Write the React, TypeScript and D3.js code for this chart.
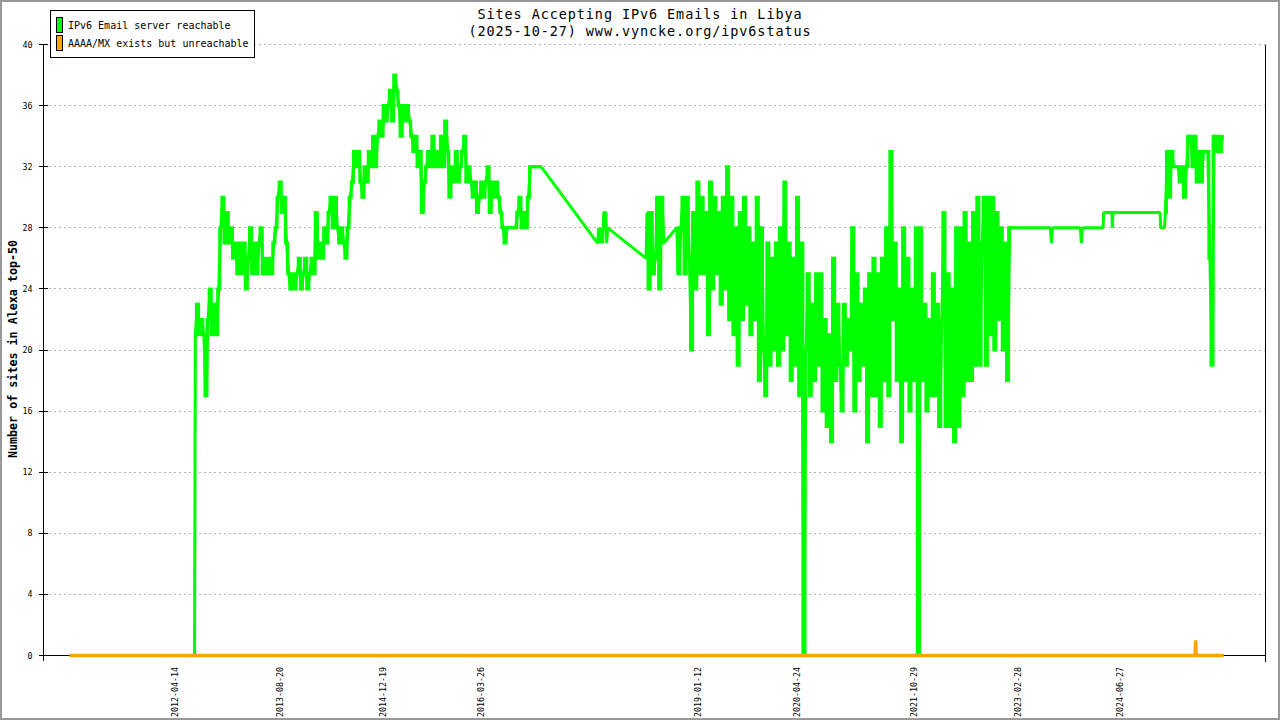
import React from "react";
import * as d3 from "d3";

const titleLines = ["Sites Accepting IPv6 Emails in Libya", "(2025-10-27) www.vyncke.org/ipv6status"];
const legendLabels = ["IPv6 Email server reachable", "AAAA/MX exists but unreachable"];
const seriesColors = ["#00ff00", "#ffa500"];
const yAxisTitle = "Number of sites in Alexa top-50";
const yTicks = [0, 4, 8, 12, 16, 20, 24, 28, 32, 36, 40];
const xLabelDates = ["2012-04-14", "2013-08-20", "2014-12-19", "2016-03-26", "2019-01-12", "2020-04-24", "2021-10-29", "2023-02-28", "2024-06-27"];
const xDomain = ["2010-08-03", "2026-05-12"];
const xTickIntervals = 25;

const STEP_DAYS = 10;
const reach2012Start = "2012-07-19";
const reach2012 = [
  21, 23, 21, 22, 21, 17, 22, 24, 21, 23,
  21, 24, 28, 30, 27, 29, 27, 28, 26, 27,
  25, 27, 25, 27, 24, 26, 28, 25, 27, 25,
  27, 28, 25, 26, 25, 26, 25, 27, 28, 30,
  31, 29, 30, 27, 25, 24, 25, 24, 25, 26,
  24, 25, 26, 24, 25, 26, 25, 29, 26, 27,
  26, 28, 27, 29, 30, 28, 30, 28, 27, 28,
  27, 26, 28, 30, 31, 33, 32, 33, 31, 30,
  32, 31, 33, 32, 34, 32, 34, 35, 34, 36,
  35, 36, 37, 35, 38, 37, 36, 34, 36, 35,
  36, 35, 34, 33, 34, 32, 33, 29, 31, 32,
  33, 32, 34, 32, 33, 32, 34, 32, 35, 33,
  30, 32, 31, 33, 31, 32, 33, 34, 31, 32,
  31, 30, 31, 29, 30, 31, 30, 31, 32, 29,
  31, 30, 31, 30, 29, 28, 27, 28, 28, 28,
  28, 28, 29, 30, 28, 29, 28, 30, 32, 32,
  32, 32, 32, 32,
];
const reach2018Start = "2018-05-18";
const reach2018: (number | null)[] = [
  29, 24, 29, 25, 26, 30, 24, 30, 27, null,
  null, null, null, null, 28, 25, 28, 30, 25, 30,
  26, 20, 29, 24, 31, 25, 30, 25, 29, 21,
  31, 24, 30, 25, 29, 23, 30, 24, 32, 22,
  30, 21, 28, 19, 29, 22, 30, 23, 28, 21,
  27, 22, 30, 18, 28, 20, 17, 27, 19, 26,
  20, 27, 19, 28, 20, 31, 21, 27, 18, 26,
  19, 30, 17, 27, 0, 20, 25, 17, 23, 18,
  25, 19, 25, 16, 22, 15, 21, 14, 26, 18,
  23, 19, 16, 23, 19, 22, 20, 28, 16, 25,
  18, 23, 19, 24, 14, 25, 17, 26, 17, 25,
  15, 26, 18, 28, 17, 33, 22, 27, 18, 24,
  14, 28, 18, 26, 16, 24, 18, 28, 0, 28,
  18, 23, 16, 22, 17, 25, 17, 23, 15, 22,
  29, 15, 25, 15, 24, 14, 28, 15, 28, 17,
  29, 18, 27, 18, 29, 19, 30, 19, 27, 30,
  19, 30, 21, 30, 20, 29, 22, 28, 20, 27,
  18, 28, 28, 28,
];
const reach2025Start = "2025-01-25";
const reach2025 = [29, 33, 30, 33, 32, 32, 32, 31, 32, 30, 32, 34, 34, 32, 34, 31, 33, 31, 33, 33, 33, 26, 19, 34, 33, 34, 33, 34];
const reachExtraDates = [
  "2010-12-04", "2012-07-15",
  "2017-09-27", "2017-10-03", "2017-10-10", "2017-10-17", "2017-10-21", "2017-10-26", "2017-11-05", "2017-11-09", "2017-11-14",
  "2018-05-14",
  "2023-08-02", "2023-08-07", "2023-08-12", "2023-12-21", "2023-12-26", "2023-12-31",
  "2024-04-06", "2024-04-09", "2024-05-18", "2024-05-20", "2024-05-23",
  "2024-12-31", "2025-01-03", "2025-01-21", "2025-10-27",
];
const reachExtraValues = [0, 0, 27, 28, 27, 28, 27, 29, 29, 27, 28, 26, 28, 27, 28, 28, 27, 28, 28, 29, 29, 28, 29, 29, 28, 28, 34];
const unreachDates = ["2010-12-04", "2025-06-14", "2025-06-15", "2025-06-17", "2025-06-19", "2025-10-27"];
const unreachValues = [0, 0, 0.5, 1, 0, 0];

type Pt = { date: Date; value: number };
const parse = d3.utcParse("%Y-%m-%d");

function runs(start: string, values: (number | null)[]): Pt[][] {
  const t0 = parse(start) as Date;
  const out: Pt[][] = [];
  let cur: Pt[] = [];
  values.forEach((v, i) => {
    if (v == null) {
      if (cur.length) out.push(cur);
      cur = [];
    } else cur.push({ date: d3.utcDay.offset(t0, i * STEP_DAYS), value: v });
  });
  if (cur.length) out.push(cur);
  return out;
}
function pairs(dates: string[], values: number[]): Pt[] {
  return dates.map((d, i) => ({ date: parse(d) as Date, value: values[i] }));
}

const mono = "'DejaVu Sans Mono', monospace";

export default function App() {
  const x = d3.scaleUtc().domain(xDomain.map((d) => parse(d) as Date)).range([43.5, 1265.5]);
  const y = d3.scaleLinear().domain([0, 40]).range([655.5, 44.5]);

  const denseRuns = [
    ...runs(reach2012Start, reach2012),
    ...runs(reach2018Start, reach2018),
    ...runs(reach2025Start, reach2025),
  ];
  const reach = [...pairs(reachExtraDates, reachExtraValues), ...denseRuns.flat()].sort((a, b) => +a.date - +b.date);
  const unreach = pairs(unreachDates, unreachValues);

  const line = d3.line<Pt>().x((d) => x(d.date)).y((d) => y(d.value));
  const stepLine = d3.line<Pt>().x((d) => x(d.date)).y((d) => y(d.value)).curve(d3.curveStep);
  const [d0, d1] = x.domain();
  const interp = d3.interpolateDate(d0, d1);
  const xTicks = d3.range(xTickIntervals + 1).map((i) => interp(i / xTickIntervals));
  const [xl, xr] = x.range();
  const [yb, yt] = y.range();

  return (
    <div style={{ width: 1280, height: 720 }}>
      <style>{"body{margin:0}"}</style>
      <svg width={1280} height={720} style={{ display: "block", background: "#fff" }}>
        <rect x={0} y={0} width={1280} height={720} fill="#fff" />
        {/* grid */}
        <g stroke="#b4b4b4" strokeWidth={1} strokeDasharray="2,3" shapeRendering="crispEdges">
          {yTicks.filter((t) => t !== 0).map((t) => (
            <line key={"gy" + t} x1={xl} x2={xr} y1={y(t)} y2={y(t)} />
          ))}
          {xTicks.slice(1, -1).map((t, i) => (
            <line key={"gx" + i} x1={x(t)} x2={x(t)} y1={yt} y2={yb} />
          ))}
        </g>
        {/* axes */}
        <g stroke="#000" strokeWidth={1} shapeRendering="crispEdges">
          <line x1={xl} x2={xl} y1={yt} y2={yb + 5} />
          <line x1={xr} x2={xr} y1={yt} y2={yb + 5} />
          <line x1={xl} x2={xr} y1={yb} y2={yb} />
          {yTicks.map((t) => (
            <line key={"ty" + t} x1={xl - 5} x2={xl + 4} y1={y(t)} y2={y(t)} />
          ))}
          {xTicks.map((t, i) => (
            <line key={"tx" + i} x1={x(t)} x2={x(t)} y1={yb - 3} y2={yb + 6} />
          ))}
        </g>
        {/* tick labels */}
        <g fontFamily={mono} fontSize={8.3} fill="#000">
          {yTicks.map((t) => (
            <text key={"ly" + t} x={xl - 11} y={y(t) + 3} textAnchor="end">{t}</text>
          ))}
          {xLabelDates.map((d) => {
            const px = x(parse(d) as Date);
            return (
              <text key={"lx" + d} transform={`translate(${px},667) rotate(-90)`} textAnchor="end" dominantBaseline="central">{d}</text>
            );
          })}
        </g>
        {/* series */}
        <path d={line(reach) || ""} fill="none" stroke={seriesColors[0]} strokeWidth={3} strokeLinejoin="bevel" />
        {denseRuns.map((r, i) => (
          <path key={"run" + i} d={stepLine(r) || ""} fill="none" stroke={seriesColors[0]} strokeWidth={3} strokeLinejoin="miter" />
        ))}
        <path d={line(unreach) || ""} fill="none" stroke={seriesColors[1]} strokeWidth={3.5} strokeLinejoin="bevel" />
        {/* y title */}
        <text transform="translate(13,349) rotate(-90)" textAnchor="middle" dominantBaseline="central" fontFamily={mono} fontWeight="bold" fontSize={11.7}>{yAxisTitle}</text>
        {/* title */}
        <g fontFamily={mono} fontSize={13.5} letterSpacing={0.9} textAnchor="middle">
          <text x={640} y={18.5}>{titleLines[0]}</text>
          <text x={640} y={36}>{titleLines[1]}</text>
        </g>
        {/* legend */}
        <g>
          <rect x={50.5} y={10.5} width={204} height={47} fill="#fff" stroke="#000" strokeWidth={1} shapeRendering="crispEdges" />
          {legendLabels.map((l, i) => (
            <g key={l}>
              <rect x={56.5} y={17.5 + i * 17.5} width={6} height={15} fill={seriesColors[i]} stroke="#000" strokeWidth={1} shapeRendering="crispEdges" />
              <text x={68} y={29.3 + i * 17.4} fontFamily={mono} fontSize={10}>{l}</text>
            </g>
          ))}
        </g>
        {/* outer frame */}
        <rect x={1} y={1} width={1278} height={718} fill="none" stroke="#999" strokeWidth={2} />
      </svg>
    </div>
  );
}
